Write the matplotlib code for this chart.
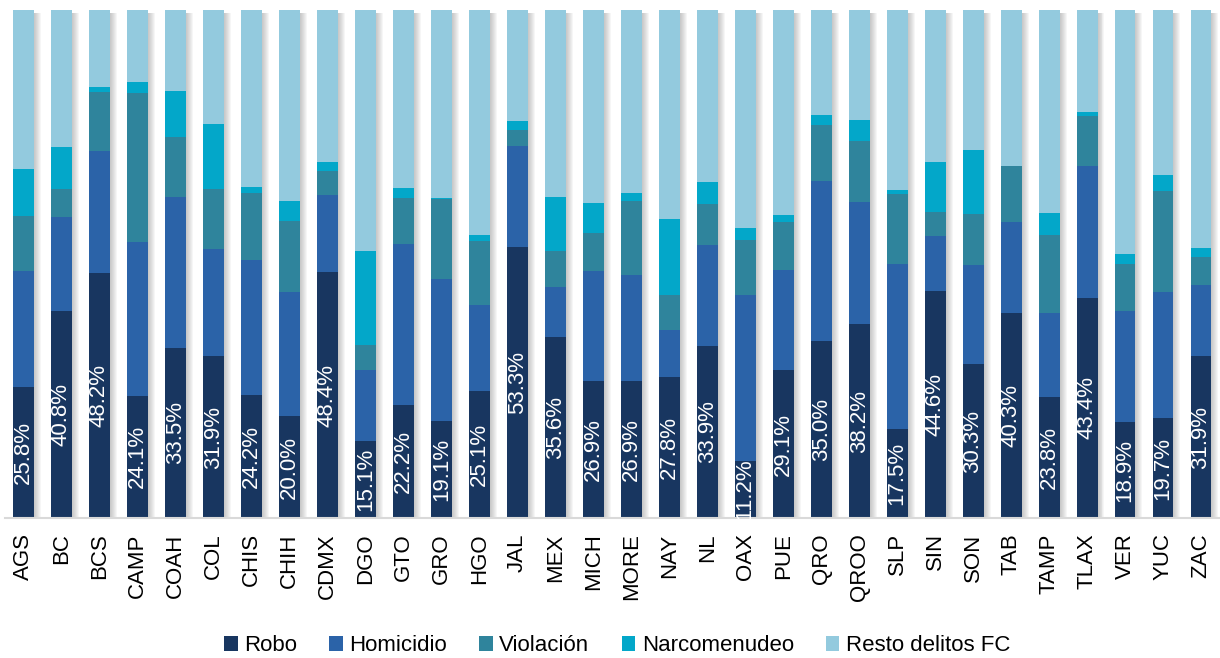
import numpy as np
import matplotlib
matplotlib.use("Agg")
import matplotlib.pyplot as plt
from matplotlib.patches import Patch

plt.rcParams['font.family'] = ['Liberation Sans', 'DejaVu Sans']

estados = ["AGS", "BC", "BCS", "CAMP", "COAH", "COL", "CHIS", "CHIH", "CDMX", "DGO",
           "GTO", "GRO", "HGO", "JAL", "MEX", "MICH", "MORE", "NAY", "NL", "OAX",
           "PUE", "QRO", "QROO", "SLP", "SIN", "SON", "TAB", "TAMP", "TLAX", "VER",
           "YUC", "ZAC"]

robo = [25.8, 40.8, 48.2, 24.1, 33.5, 31.9, 24.2, 20.0, 48.4, 15.1,
        22.2, 19.1, 25.1, 53.3, 35.6, 26.9, 26.9, 27.8, 33.9, 11.2,
        29.1, 35.0, 38.2, 17.5, 44.6, 30.3, 40.3, 23.8, 43.4, 18.9,
        19.7, 31.9]
homicidio = [22.9, 18.4, 24.0, 30.3, 29.7, 21.0, 26.5, 24.4, 15.2, 14.0,
             31.8, 28.0, 16.9, 19.9, 9.8, 21.8, 21.0, 9.3, 19.9, 32.7,
             19.8, 31.4, 24.2, 32.5, 10.9, 19.5, 17.9, 16.5, 25.8, 21.8,
             24.7, 13.9]
violacion = [10.7, 5.5, 11.7, 29.2, 11.9, 11.8, 13.2, 14.0, 4.7, 5.0,
             8.9, 15.9, 12.6, 3.2, 7.1, 7.5, 14.5, 6.8, 8.0, 10.8,
             9.4, 11.2, 12.0, 13.7, 4.7, 10.1, 11.0, 15.4, 9.9, 9.3,
             20.0, 5.5]
narcomenudeo = [9.4, 8.3, 1.0, 2.2, 9.0, 12.9, 1.2, 4.1, 1.7, 18.4,
                2.1, 0.2, 1.2, 1.7, 10.7, 5.9, 1.5, 14.9, 4.4, 2.4,
                1.4, 1.9, 4.2, 0.9, 9.8, 12.6, 0.0, 4.4, 0.8, 1.9,
                3.2, 1.9]
resto = [31.2, 27.0, 15.1, 14.2, 15.9, 22.4, 34.9, 37.5, 30.0, 47.5,
         35.0, 37.0, 44.2, 21.9, 36.8, 37.9, 36.1, 41.2, 33.8, 42.8,
         40.5, 20.7, 21.6, 35.4, 30.0, 27.5, 30.8, 39.9, 20.1, 48.1,
         32.4, 46.8]

series = [("Robo", robo, "#183660"),
          ("Homicidio", homicidio, "#2b63a8"),
          ("Violación", violacion, "#2f849c"),
          ("Narcomenudeo", narcomenudeo, "#03a7c9"),
          ("Resto delitos FC", resto, "#93cade")]

fig = plt.figure(figsize=(12.2, 6.58), dpi=100)
ax = fig.add_axes([0.0037, 0.2127, 0.9963, 0.7721])

x = np.arange(len(estados))
w = 0.55
px = 1 / 38.0  # one pixel in data units

total = np.sum([s[1] for s in series], axis=0)

# soft shadow to the right of each bar
for k in range(1, 8):
    ax.bar(x + k * px, 100 - 0.4, bottom=-0.2, width=w, color="#808080",
           alpha=0.07, linewidth=0, zorder=1)

bottom = np.zeros(len(estados))
for name, vals, col in series:
    v = np.array(vals) / total * 100
    ax.bar(x, v, bottom=bottom, width=w, color=col, linewidth=0, zorder=2)
    bottom += v

# robo labels centred in their segment
robo_pct = np.array(robo) / total * 100
for i, r in enumerate(robo):
    ax.text(x[i], robo_pct[i] / 2, f"{r:.1f}%", rotation=90, ha="center",
            va="center", color="white", fontsize=16, zorder=3)

ax.set_xlim(-0.5, len(estados) - 0.5)
ax.set_ylim(0, 100)
ax.set_yticks([])
ax.set_xticks(x)
ax.set_xticklabels(estados, rotation=90, fontsize=16)
ax.tick_params(axis="x", length=0, pad=11)
for s in ["top", "right", "left"]:
    ax.spines[s].set_visible(False)
ax.spines["bottom"].set_color("#d9d9d9")
ax.spines["bottom"].set_linewidth(1.5)

handles = [Patch(facecolor=c, label=n) for n, _, c in series]
fig.legend(handles=handles, loc="center", bbox_to_anchor=(0.506, 0.019),
           ncol=5, frameon=False, fontsize=16, handlelength=0.6,
           handleheight=0.65, handletextpad=0.3, columnspacing=1.45,
           borderpad=0, borderaxespad=0)

fig.savefig("out.png", dpi=100)
